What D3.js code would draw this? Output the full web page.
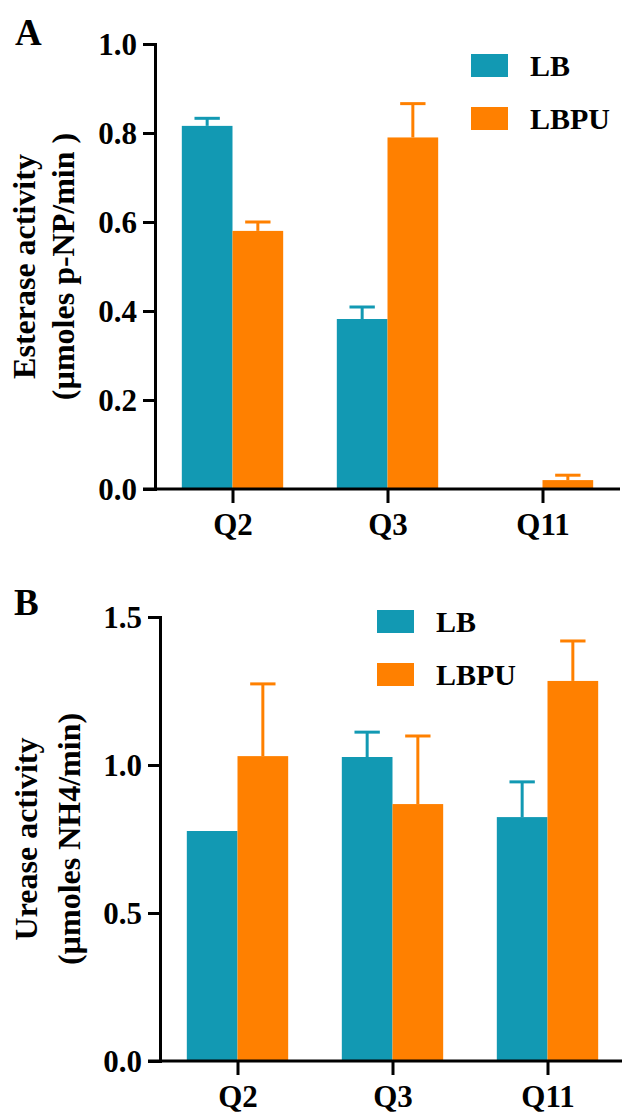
<!DOCTYPE html>
<html>
<head>
<meta charset="utf-8">
<script src="https://cdn.jsdelivr.net/npm/d3@7"></script>
<style>
  body { margin: 0; background: #fff; }
  svg { display: block; }
  svg text { font-family: 'Liberation Serif', Tinos, 'Times New Roman', Times, serif !important; font-weight: 700; fill: #000; }
</style>
</head>
<body>
<svg id="chart" width="626" height="1117" font-family="Liberation Serif"></svg>
<script>
// ---- data ----
const categories = ["Q2", "Q3", "Q11"];
const seriesNames = ["LB", "LBPU"];
const seriesColors = ["#1299B3", "#FF8000"];

const esteraseLB = [0.816, 0.382, 0];
const esteraseLBErr = [0.017, 0.027, 0];
const esteraseLBPU = [0.58, 0.79, 0.02];
const esteraseLBPUErr = [0.02, 0.076, 0.011];
const esteraseTicks = [0, 0.2, 0.4, 0.6, 0.8, 1.0];

const ureaseLB = [0.777, 1.027, 0.824];
const ureaseLBErr = [0, 0.084, 0.119];
const ureaseLBPU = [1.03, 0.868, 1.284];
const ureaseLBPUErr = [0.244, 0.23, 0.135];
const ureaseTicks = [0, 0.5, 1.0, 1.5];

const FONT = "'Liberation Serif', Tinos, 'Times New Roman', serif";
const svg = d3.select("#chart");

function drawPanel(o) {
  const g = svg.append("g");
  const y = d3.scaleLinear().domain([0, o.yMax]).range([o.y0, o.y1]);
  const x = d3.scalePoint().domain(categories).range([o.axisX, o.xEnd]).padding(0.5);
  const bw = x.step() * 0.327;
  const vals = [o.lb, o.lbpu];
  const errs = [o.lbErr, o.lbpuErr];

  // bars
  seriesNames.forEach((s, si) => {
    const data = categories.map((c, i) => ({c, v: vals[si][i], e: errs[si][i]}));
    const off = si === 0 ? -bw : 0;
    g.append("g").selectAll("rect").data(data).join("rect")
      .attr("x", d => x(d.c) + off)
      .attr("y", d => y(d.v))
      .attr("width", bw)
      .attr("height", d => y(0) - y(d.v))
      .attr("fill", seriesColors[si]);
    const eg = g.append("g").attr("stroke", seriesColors[si]).attr("stroke-width", 3);
    data.filter(d => d.e > 0).forEach(d => {
      const cx = x(d.c) + off + bw / 2;
      eg.append("line").attr("x1", cx).attr("x2", cx).attr("y1", y(d.v)).attr("y2", y(d.v + d.e));
      eg.append("line").attr("x1", cx - bw / 4).attr("x2", cx + bw / 4).attr("y1", y(d.v + d.e)).attr("y2", y(d.v + d.e));
    });
  });

  // y axis
  const ya = g.append("g").attr("transform", `translate(${o.axisX},0)`)
    .call(d3.axisLeft(y).tickValues(o.ticks).tickFormat(d3.format(".1f")).tickSize(12).tickSizeOuter(0).tickPadding(6));
  ya.attr("font-family", FONT).attr("font-size", null);
  ya.selectAll("path,line").attr("stroke", "#000").attr("stroke-width", 3);
  ya.select(".domain").attr("stroke-linecap", "square");
  ya.selectAll("text").attr("font-family", FONT).attr("font-weight", "bold").style("font-size", "31px").attr("dy", "0.34em");

  // x axis
  const xa = g.append("g").attr("transform", `translate(0,${o.y0})`)
    .call(d3.axisBottom(x).tickSize(14).tickSizeOuter(0).tickPadding(10));
  xa.attr("font-family", FONT).attr("font-size", null);
  xa.select(".domain").attr("d", `M${o.axisX - 12},0H${o.xAxisEnd}`);
  xa.selectAll("path,line").attr("stroke", "#000").attr("stroke-width", 3);
  xa.selectAll("text").attr("font-family", FONT).attr("font-weight", "bold").style("font-size", "31px").attr("dy", "0.72em");

  // y axis title
  const cy = (o.y0 + o.y1) / 2;
  [o.title1, o.title2].forEach((t, i) => {
    g.append("text").attr("transform", `translate(${i ? o.t2x : o.t1x},${cy}) rotate(-90)`)
      .attr("text-anchor", "middle").attr("font-family", FONT).attr("font-weight", "bold")
      .style("font-size", "32px").text(t);
  });

  // panel label
  g.append("text").attr("x", o.labX).attr("y", o.labY).attr("font-family", FONT)
    .attr("font-weight", "bold").style("font-size", "37px").text(o.label);

  // legend
  seriesNames.forEach((s, si) => {
    const ly = o.legY + si * o.legGap;
    g.append("rect").attr("x", o.legX).attr("y", ly).attr("width", 37).attr("height", 23).attr("fill", seriesColors[si]);
    g.append("text").attr("x", o.legX + 59).attr("y", ly + 22).attr("font-family", FONT)
      .attr("font-weight", "bold").style("font-size", "30px").text(s);
  });
}

drawPanel({
  label: "A", labX: 15, labY: 45,
  y0: 489, y1: 44, yMax: 1.0, ticks: esteraseTicks,
  axisX: 155, xEnd: 620, xAxisEnd: 620,
  lb: esteraseLB, lbErr: esteraseLBErr, lbpu: esteraseLBPU, lbpuErr: esteraseLBPUErr,
  title1: "Esterase activity", title2: "(µmoles p-NP/min )", t1x: 35, t2x: 74,
  legX: 471, legY: 54, legGap: 53
});

drawPanel({
  label: "B", labX: 14, labY: 615,
  y0: 1061, y1: 617, yMax: 1.5, ticks: ureaseTicks,
  axisX: 160, xEnd: 625, xAxisEnd: 622,
  lb: ureaseLB, lbErr: ureaseLBErr, lbpu: ureaseLBPU, lbpuErr: ureaseLBPUErr,
  title1: "Urease activity", title2: "(µmoles NH4/min)", t1x: 37, t2x: 80,
  legX: 377, legY: 610, legGap: 53
});
</script>
</body>
</html>
